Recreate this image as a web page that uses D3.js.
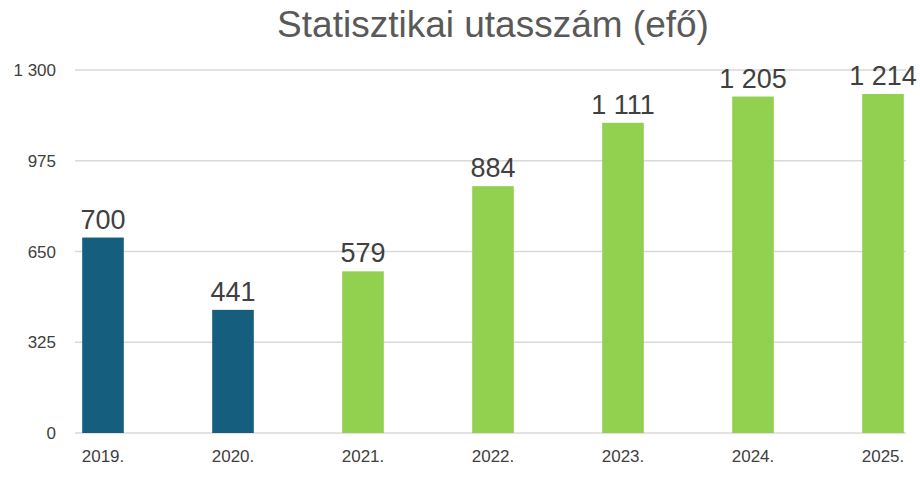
<!DOCTYPE html>
<html><head><meta charset="utf-8">
<script src="https://cdn.jsdelivr.net/npm/d3@7"></script>
<style>body{margin:0;background:#fff;font-family:"Helvetica Neue",Arial,"Liberation Sans",sans-serif}</style>
</head><body>
<svg id="c" width="920" height="477"></svg>
<script>
var years = ["2019.", "2020.", "2021.", "2022.", "2023.", "2024.", "2025."];
var values = [700, 441, 579, 884, 1111, 1205, 1214];
var colors = ["#155e7e", "#155e7e", "#92d050", "#92d050", "#92d050", "#92d050", "#92d050"];
var ticks = [0, 325, 650, 975, 1300];

var svg = d3.select("#c");
var fmt = function (v) { return d3.format(",")(v).replace(/,/g, " "); };

var x = d3.scaleBand().domain(years).range([38, 948]).paddingInner(0.68).paddingOuter(0.34);
var y = d3.scaleLinear().domain([0, 1300]).range([433, 70]);

svg.append("text").attr("x", 493).attr("y", 37).attr("text-anchor", "middle")
  .attr("font-size", 37).attr("fill", "#595959").text("Statisztikai utasszám (efő)");

// grid
svg.selectAll(".grid").data(ticks).join("line")
  .attr("x1", 75).attr("x2", 906)
  .attr("y1", function (d) { return y(d); }).attr("y2", function (d) { return y(d); })
  .attr("stroke", "#d9d9d9").attr("stroke-width", 1.5);

svg.selectAll(".yt").data(ticks).join("text")
  .attr("x", 56).attr("y", function (d) { return y(d) + 6; })
  .attr("text-anchor", "end").attr("font-size", 17).attr("fill", "#404040")
  .text(fmt);

svg.selectAll(".bar").data(values).join("rect")
  .attr("x", function (d, i) { return x(years[i]); })
  .attr("width", x.bandwidth())
  .attr("y", function (d) { return y(d); })
  .attr("height", function (d) { return y(0) - y(d); })
  .attr("fill", function (d, i) { return colors[i]; });

svg.selectAll(".lbl").data(values).join("text")
  .attr("x", function (d, i) { return x(years[i]) + x.bandwidth() / 2; })
  .attr("y", function (d) { return y(d) - 9; })
  .attr("text-anchor", "middle").attr("font-size", 27).attr("fill", "#404040")
  .text(fmt);

svg.selectAll(".xt").data(years).join("text")
  .attr("x", function (d) { return x(d) + x.bandwidth() / 2; })
  .attr("y", 462).attr("text-anchor", "middle").attr("font-size", 17).attr("fill", "#404040")
  .text(function (d) { return d; });
</script>
</body></html>
